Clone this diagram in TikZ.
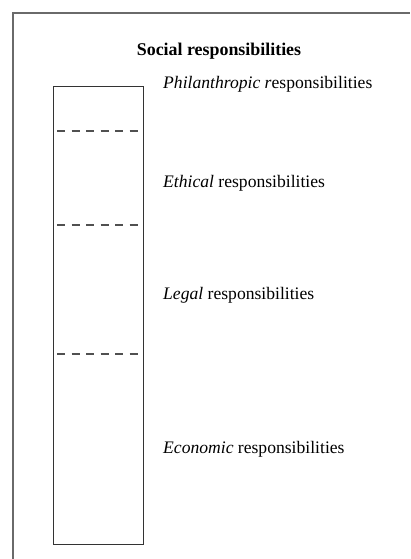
\documentclass[tikz,border=0pt]{standalone}
\usepackage{fontspec}
\setmainfont{Liberation Serif}
\usetikzlibrary{positioning}

\definecolor{framegray}{HTML}{6A6A6A}
\definecolor{boxgray}{HTML}{333333}
\definecolor{dashgray}{HTML}{505050}

\begin{document}
\begin{tikzpicture}[x=1pt, y=-1pt,
    layer/.style={font=\fontsize{17.6}{20}\selectfont, anchor=west, inner sep=0pt},
    divider/.style={dashgray, line width=1.6pt, dash pattern=on 8pt off 6.5pt},
    pillar/.style={draw=boxgray, line width=1.1pt, minimum width=90pt, minimum height=458pt,
                   inner sep=0pt, anchor=north west}
  ]
    \useasboundingbox (0,0) rectangle (410,559);

    % Outer frame (open on the right and bottom)
    \draw[framegray, line width=1.4pt] (13,559) |- (410,13);

    % Title
    \node[font=\fontsize{17.9}{20}\selectfont\bfseries] (title) at (219,51) {Social responsibilities};

    % Pillar
    \node[pillar] (pillar) at (53,86) {};

    % Dividers
    \coordinate (d1) at (57,131);
    \coordinate (d2) at (57,225);
    \coordinate (d3) at (57,354);
    \foreach \d in {d1,d2,d3}
      \draw[divider] (\d) -- ++(84,0);

    % Layer labels
    \node[layer] (phil) at (163,84) {\textit{Philanthropic r}esponsibilities};
    \node[layer] (eth)  at (163,183) {\textit{Ethical} responsibilities};
    \node[layer] (leg)  at (163,295) {\textit{Legal} responsibilities};
    \node[layer] (eco)  at (163,449) {\textit{Economic} responsibilities};
\end{tikzpicture}
\end{document}
